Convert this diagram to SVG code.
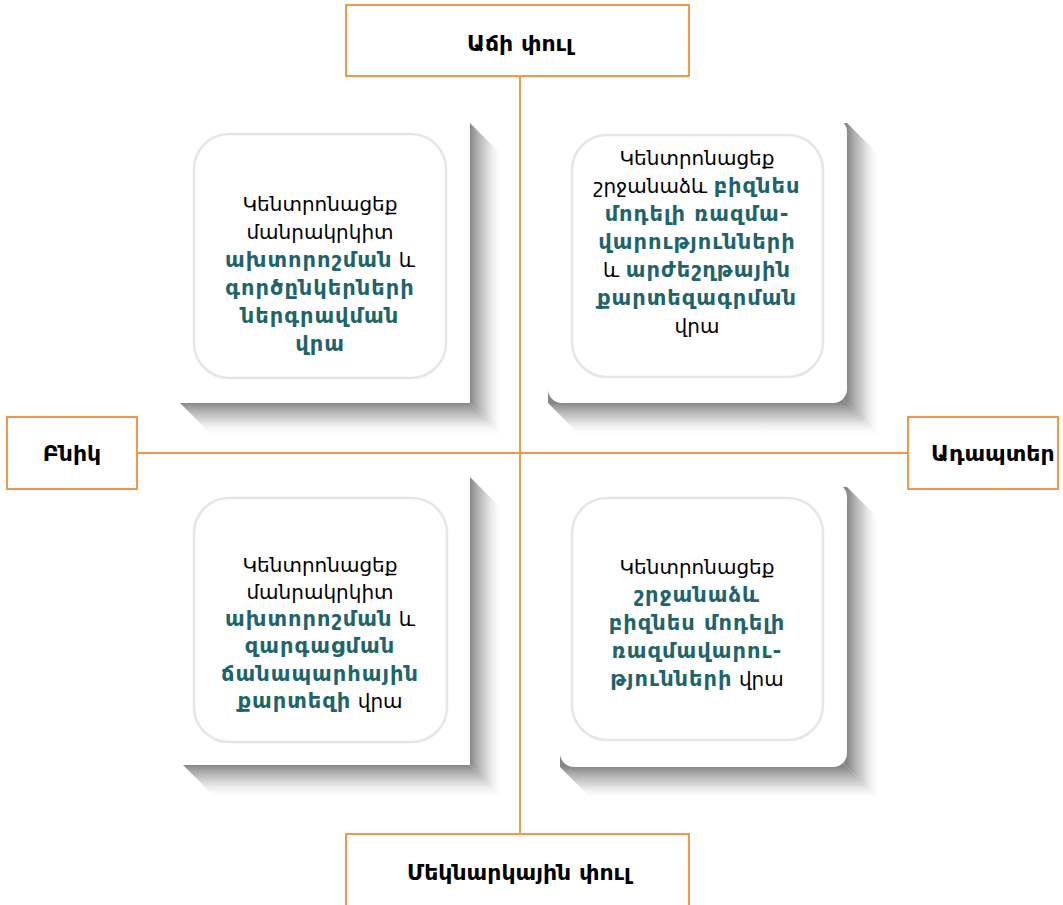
<svg xmlns="http://www.w3.org/2000/svg" width="1063" height="905" viewBox="0 0 1063 905">
<defs>
<linearGradient id="gR" x1="0" y1="0" x2="1" y2="0"><stop offset="0" stop-color="#808080" stop-opacity="0.95"/><stop offset="0.45" stop-color="#b0b0b0" stop-opacity="0.6"/><stop offset="1" stop-color="#ffffff" stop-opacity="0"/></linearGradient>
<linearGradient id="gB" x1="0" y1="0" x2="0" y2="1"><stop offset="0" stop-color="#808080" stop-opacity="0.95"/><stop offset="0.45" stop-color="#b0b0b0" stop-opacity="0.6"/><stop offset="1" stop-color="#ffffff" stop-opacity="0"/></linearGradient>
<linearGradient id="gR2" x1="0" y1="0" x2="1" y2="0"><stop offset="0" stop-color="#808080" stop-opacity="0.95"/><stop offset="0.26" stop-color="#808080" stop-opacity="0.95"/><stop offset="0.6" stop-color="#b0b0b0" stop-opacity="0.6"/><stop offset="1" stop-color="#ffffff" stop-opacity="0"/></linearGradient>
<linearGradient id="gB2" x1="0" y1="0" x2="0" y2="1"><stop offset="0" stop-color="#808080" stop-opacity="0.95"/><stop offset="0.26" stop-color="#808080" stop-opacity="0.95"/><stop offset="0.6" stop-color="#b0b0b0" stop-opacity="0.6"/><stop offset="1" stop-color="#ffffff" stop-opacity="0"/></linearGradient>
<style>
.box{fill:#fff;stroke:#F79646;stroke-width:2}
.conn{stroke:#F79646;stroke-width:2;fill:none}
.lbl{font-family:"DejaVu Sans",sans-serif;font-weight:bold;font-size:22px;fill:#000;text-anchor:middle}
.card{fill:#fff}
.inner{fill:#fff;stroke:#E6E6E6;stroke-width:2.5}
.t{font-family:"DejaVu Sans",sans-serif;font-size:20px;fill:#000;text-anchor:middle}
.b{font-weight:bold;fill:#1D656B;font-size:21px;letter-spacing:1px}
</style>
</defs>
<rect width="1063" height="905" fill="#fff"/>
<g id="connectors">
<line class="conn" x1="520" y1="77" x2="520" y2="834"/>
<line class="conn" x1="137" y1="453" x2="908" y2="453"/>
</g>
<g id="card-tl">
<polygon fill="url(#gR)" points="470,123 504,157 504,437 470,403"/>
<polygon fill="url(#gB)" points="180,403 214,437 504,437 470,403"/>
<rect class="card" x="180" y="118" width="290" height="285" rx="3"/>
<rect class="inner" x="194" y="134" width="252" height="244" rx="35"/>
<text class="t"><tspan x="320" y="211">Կենտրոնացեք</tspan><tspan x="320" y="239">մանրակրկիտ</tspan><tspan x="320" y="267"><tspan class="b">ախտորոշման</tspan>  և</tspan><tspan class="b" x="320" y="295">գործընկերների</tspan><tspan class="b" x="320" y="323">ներգրավման</tspan><tspan class="b" x="320" y="351">վրա</tspan></text>
</g>
<g id="card-tr">
<polygon fill="url(#gR2)" points="835,123 847,123 881,157 881,437 835,391"/>
<polygon fill="url(#gB2)" points="548,391 548,403 582,437 881,437 835,391"/>
<rect class="card" x="548" y="118" width="299" height="285" rx="14"/>
<rect class="inner" x="572" y="135" width="251" height="242" rx="35"/>
<text class="t"><tspan x="697" y="165">Կենտրոնացեք</tspan><tspan x="697" y="193">շրջանաձև <tspan class="b">բիզնես</tspan></tspan><tspan class="b" x="697" y="221">մոդելի ռազմա-</tspan><tspan class="b" x="697" y="249">վարությունների</tspan><tspan x="697" y="277">և <tspan class="b">արժեշղթային</tspan></tspan><tspan class="b" x="697" y="305">քարտեզագրման</tspan><tspan x="697" y="333">վրա</tspan></text>
</g>
<g id="card-bl">
<polygon fill="url(#gR)" points="470,477 504,511 504,799 470,765"/>
<polygon fill="url(#gB)" points="183,765 217,799 504,799 470,765"/>
<rect class="card" x="183" y="473" width="287" height="292" rx="3"/>
<rect class="inner" x="194" y="498" width="253" height="244" rx="35"/>
<text class="t"><tspan x="320" y="572">Կենտրոնացեք</tspan><tspan x="320" y="599">մանրակրկիտ</tspan><tspan x="320" y="626"><tspan class="b">ախտորոշման</tspan> և</tspan><tspan class="b" x="320" y="653">զարգացման</tspan><tspan class="b" x="320" y="681">ճանապարհային</tspan><tspan x="320" y="708"><tspan class="b">քարտեզի</tspan> վրա</tspan></text>
</g>
<g id="card-br">
<polygon fill="url(#gR2)" points="835,487 847,487 881,521 881,801 835,755"/>
<polygon fill="url(#gB2)" points="560,755 560,767 594,801 881,801 835,755"/>
<rect class="card" x="560" y="483" width="287" height="284" rx="14"/>
<rect class="inner" x="572" y="498" width="251" height="242" rx="35"/>
<text class="t"><tspan x="697" y="574">Կենտրոնացեք</tspan><tspan class="b" x="697" y="602">շրջանաձև</tspan><tspan class="b" x="697" y="630">բիզնես մոդելի</tspan><tspan class="b" x="697" y="658">ռազմավարու-</tspan><tspan x="697" y="686"><tspan class="b">թյունների</tspan> վրա</tspan></text>
</g>
<g id="node-top">
<rect class="box" x="346" y="5" width="343" height="71"/>
<text class="lbl" x="520" y="51">Աճի փուլ</text>
</g>
<g id="node-bottom">
<rect class="box" x="346" y="834" width="343" height="72"/>
<text class="lbl" x="519" y="880">Մեկնարկային փուլ</text>
</g>
<g id="node-left">
<rect class="box" x="7" y="417" width="130" height="72"/>
<text class="lbl" x="72" y="461">Բնիկ</text>
</g>
<g id="node-right">
<rect class="box" x="908" y="417" width="150" height="72"/>
<text class="lbl" x="931" y="461" style="text-anchor:start">Ադապտեր</text>
</g>
</svg>
